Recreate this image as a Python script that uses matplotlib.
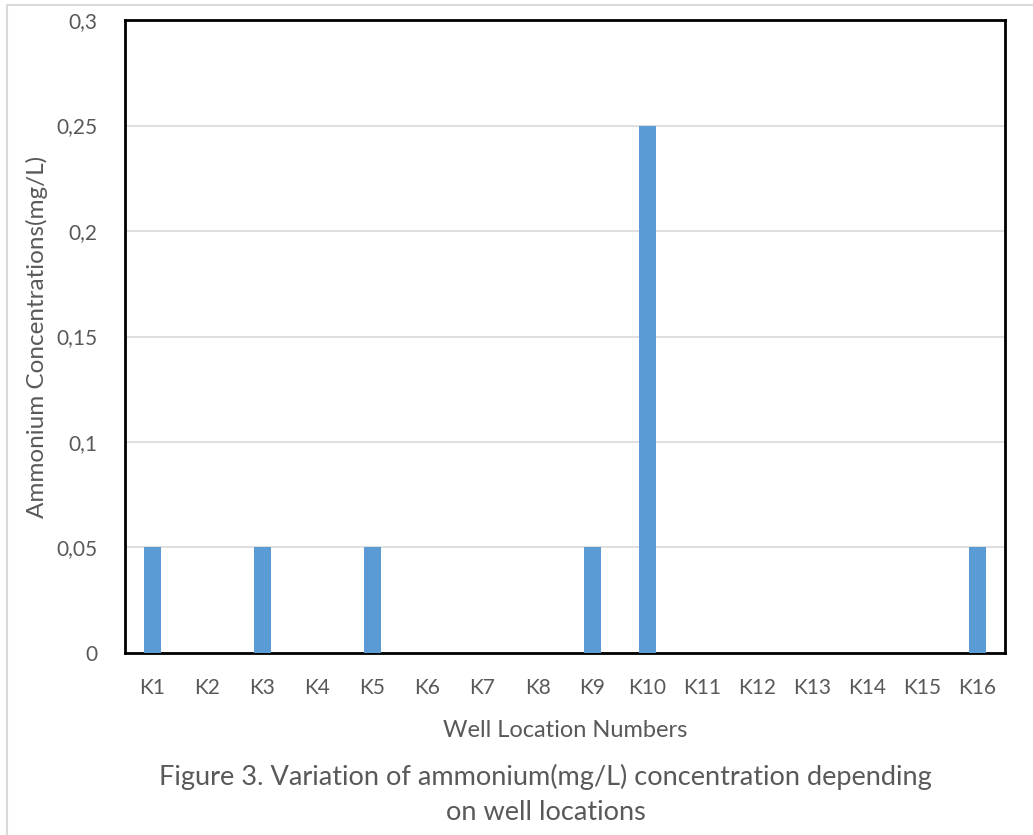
import matplotlib.pyplot as plt
from matplotlib.patches import Rectangle

wells = ['K1', 'K2', 'K3', 'K4', 'K5', 'K6', 'K7', 'K8',
         'K9', 'K10', 'K11', 'K12', 'K13', 'K14', 'K15', 'K16']
ammonium = [0.05, 0, 0.05, 0, 0.05, 0, 0, 0,
            0.05, 0.25, 0, 0, 0, 0, 0, 0.05]
yticks = [0, 0.05, 0.1, 0.15, 0.2, 0.25, 0.3]
ytick_labels = ['0', '0,05', '0,1', '0,15', '0,2', '0,25', '0,3']

plt.rcParams['font.family'] = ['Lato', 'DejaVu Sans']
text_color = '#595959'

fig = plt.figure(figsize=(10.33, 8.35), dpi=100)
ax = fig.add_axes([0.121, 0.218, 0.852, 0.758])

x = range(len(wells))
ax.bar(x, ammonium, width=0.31, color='#5B9BD5', zorder=3)

ax.set_xlim(-0.5, len(wells) - 0.5)
ax.set_ylim(0, 0.3)
ax.set_yticks(yticks)
ax.set_yticklabels(ytick_labels)
ax.set_xticks(list(x))
ax.set_xticklabels(wells)
ax.tick_params(axis='both', length=0, labelsize=15, colors=text_color)
ax.tick_params(axis='y', pad=20)
ax.tick_params(axis='x', pad=18)
ax.yaxis.grid(True, color='#D9D9D9', linewidth=1.2, zorder=0)

for s in ax.spines.values():
    s.set_color('black')
    s.set_linewidth(2)

ax.set_xlabel('Well Location Numbers', fontsize=17, color=text_color)
ax.set_ylabel('Ammonium Concentrations(mg/L)', fontsize=17.5, color=text_color)
# place axis titles where the reference has them (pixels -> axes fraction)
ax.xaxis.set_label_coords(0.5, -(731 - 653) / 633, transform=ax.transAxes)
ax.yaxis.set_label_coords(-(125 - 37) / 880, 0.5, transform=ax.transAxes)
ax.xaxis.label.set_va('center')
ax.yaxis.label.set_va('center')

fig.text(0.528, 0.0485, 'Figure 3. Variation of ammonium(mg/L) concentration depending\non well locations',
         ha='center', va='center', fontsize=19.5, color=text_color, linespacing=1.5)

fig.patches.append(Rectangle((0.007, -0.01), 1.0, 1.004, transform=fig.transFigure,
                             fill=False, edgecolor='#D9D9D9', linewidth=1.5))

fig.savefig('out.png', dpi=100)
